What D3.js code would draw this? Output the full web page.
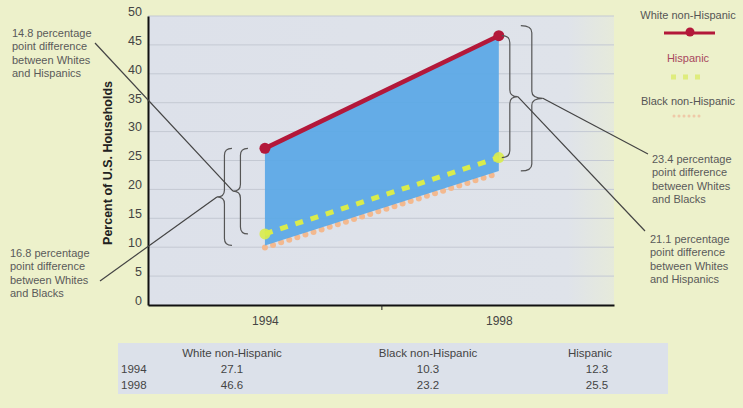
<!DOCTYPE html>
<html>
<head>
<meta charset="utf-8">
<script src="https://cdn.jsdelivr.net/npm/d3@7"></script>
<style>
  html, body { margin: 0; padding: 0; background: #edf1cb; }
  svg { display: block; }
  text { font-family: "Liberation Sans", Arial, sans-serif; }
</style>
</head>
<body>
<svg id="chart" width="743" height="408"></svg>
<script>
// ---- data ----
const years = [1994, 1998];
const white = [27.1, 46.6];
const black = [10.3, 23.2];
const hispanic = [12.3, 25.5];
const yTicks = [0, 5, 10, 15, 20, 25, 30, 35, 40, 45, 50];
const xTickLabels = ["1994", "1998"];
const seriesNames = ["White non-Hispanic", "Black non-Hispanic", "Hispanic"];
const legendNames = ["White non-Hispanic", "Hispanic", "Black non-Hispanic"];
const yTitle = "Percent of U.S. Households";

const svg = d3.select("#chart");
const W = 743, H = 408;
svg.append("rect").attr("width", W).attr("height", H).attr("fill", "#edf1cb");

const plot = { left: 148, right: 614, top: 16, bottom: 305 };
const x = d3.scaleLinear().domain([1992, 1999.97]).range([plot.left, plot.right]);
const y = d3.scaleLinear().domain([0, 50]).range([plot.bottom, plot.top]);

// plot background
const defs = svg.append("defs");
const g1 = defs.append("linearGradient").attr("id", "plotbg").attr("x1", 0).attr("x2", 1).attr("y1", 0).attr("y2", 0);
g1.append("stop").attr("offset", "0").attr("stop-color", "#dde1ea");
g1.append("stop").attr("offset", "0.9").attr("stop-color", "#dfe3ea");
g1.append("stop").attr("offset", "1").attr("stop-color", "#e6eadb");
svg.append("rect").attr("x", plot.left).attr("y", plot.top)
  .attr("width", plot.right - plot.left).attr("height", plot.bottom - plot.top)
  .attr("fill", "url(#plotbg)");

// grid lines
svg.append("g").selectAll("line").data(yTicks.filter(d => d > 0)).join("line")
  .attr("x1", plot.left).attr("x2", plot.right)
  .attr("y1", d => y(d)).attr("y2", d => y(d))
  .attr("stroke", "#c4c9d3").attr("stroke-width", 1);

// y axis
const yAxis = d3.axisLeft(y).tickValues(yTicks).tickSize(0).tickPadding(6);
const ya = svg.append("g").attr("transform", `translate(${plot.left},0)`).call(yAxis);
ya.select(".domain").attr("stroke", "#111").attr("stroke-width", 2);
ya.selectAll("text").attr("font-size", 12.5).attr("fill", "#444").attr("dy", "-0.05em")
  .attr("font-family", "'Liberation Sans', Arial, sans-serif");

// x axis
const xAxis = d3.axisBottom(x).tickValues(years).tickFormat((d, i) => xTickLabels[i]).tickSize(0).tickPadding(11);
const xa = svg.append("g").attr("transform", `translate(0,${plot.bottom})`).call(xAxis);
xa.select(".domain").attr("stroke", "#111").attr("stroke-width", 2);
xa.selectAll("text").attr("font-size", 12).attr("fill", "#444")
  .attr("font-family", "'Liberation Sans', Arial, sans-serif");
svg.append("line").attr("x1", x(1996)).attr("x2", x(1996))
  .attr("y1", plot.bottom).attr("y2", plot.bottom + 5).attr("stroke", "#222");

// y title
svg.append("text")
  .attr("transform", `translate(112,163) rotate(-90)`)
  .attr("text-anchor", "middle").attr("font-size", 12.5).attr("font-weight", "bold")
  .attr("fill", "#222").text(yTitle);

// data rows
const rows = years.map((yr, i) => ({ yr, w: white[i], b: black[i], h: hispanic[i] }));

// black (peach dots) under area
svg.append("path").datum(rows)
  .attr("d", d3.line().x(d => x(d.yr)).y(d => y(d.b) + 2))
  .attr("fill", "none").attr("stroke", "#f3b98f").attr("stroke-width", 6)
  .attr("stroke-linecap", "round").attr("stroke-dasharray", "0,8.5");

// blue area between white and black
const area = d3.area().x(d => x(d.yr)).y0(d => y(d.b)).y1(d => y(d.w));
svg.append("path").datum(rows).attr("d", area)
  .attr("fill", "#5aa8e6").attr("fill-opacity", 0.93);

// hispanic dashed line
svg.append("path").datum(rows)
  .attr("d", d3.line().x(d => x(d.yr)).y(d => y(d.h)))
  .attr("fill", "none").attr("stroke", "#d9ec4c").attr("stroke-width", 5)
  .attr("stroke-dasharray", "8,8");
svg.append("g").selectAll("circle").data(rows).join("circle")
  .attr("cx", d => x(d.yr)).attr("cy", d => y(d.h)).attr("r", 5.5)
  .attr("fill", "#d9ec4c").attr("opacity", 0.9);

// white line
svg.append("path").datum(rows)
  .attr("d", d3.line().x(d => x(d.yr)).y(d => y(d.w)))
  .attr("fill", "none").attr("stroke", "#b3183a").attr("stroke-width", 4.5);
svg.append("g").selectAll("circle").data(rows).join("circle")
  .attr("cx", d => x(d.yr)).attr("cy", d => y(d.w)).attr("r", 5.5)
  .attr("fill", "#b3183a");

// braces
function brace(xe, y1, y2, dir, depth) {
  const xb = xe + dir * depth / 2, xt = xe + dir * depth, ym = (y1 + y2) / 2, r = 7;
  return `M${xe},${y1} Q${xb},${y1} ${xb},${y1 + r} L${xb},${ym - r} Q${xb},${ym} ${xt},${ym}` +
         ` Q${xb},${ym} ${xb},${ym + r} L${xb},${y2 - r} Q${xb},${y2} ${xe},${y2}`;
}
const bg = svg.append("g").attr("fill", "none").attr("stroke", "#555").attr("stroke-width", 1.2);
const x0 = x(years[0]), x1 = x(years[1]);
const braces = [
  { xe: x0 - 17, y1: y(white[0]), y2: y(hispanic[0]), dir: -1, depth: 15 },
  { xe: x0 - 33, y1: y(white[0]), y2: y(black[0]), dir: -1, depth: 15 },
  { xe: x1 + 3, y1: y(white[1]), y2: y(hispanic[1]), dir: 1, depth: 16 },
  { xe: x1 + 22, y1: y(white[1]) - 10, y2: y(black[1]), dir: 1, depth: 22 }
];
braces.forEach(b => bg.append("path").attr("d", brace(b.xe, b.y1, b.y2, b.dir, b.depth)));
const tips = braces.map(b => [b.xe + b.dir * b.depth, (b.y1 + b.y2) / 2]);

// annotations
const fmt = v => (Math.round(v * 10) / 10).toFixed(1);
const notes = [
  { lines: [`${fmt(white[0] - hispanic[0])} percentage`, "point difference", "between Whites", "and Hispanics"],
    tx: 12, ty: 37, from: [95, 43], tip: tips[0] },
  { lines: [`${fmt(white[0] - black[0])} percentage`, "point difference", "between Whites", "and Blacks"],
    tx: 10, ty: 257, from: [100, 281], tip: tips[1] },
  { lines: [`${fmt(white[1] - black[1])} percentage`, "point difference", "between Whites", "and Blacks"],
    tx: 652, ty: 163, from: [648, 154], tip: tips[3] },
  { lines: [`${fmt(white[1] - hispanic[1])} percentage`, "point difference", "between Whites", "and Hispanics"],
    tx: 650, ty: 243, from: [645, 231], tip: tips[2] }
];
notes.forEach(n => {
  svg.append("line").attr("x1", n.from[0]).attr("y1", n.from[1])
    .attr("x2", n.tip[0]).attr("y2", n.tip[1]).attr("stroke", "#444").attr("stroke-width", 1.2);
  const t = svg.append("text").attr("x", n.tx).attr("y", n.ty).attr("font-size", 11).attr("fill", "#5a5a5a");
  n.lines.forEach((l, i) => t.append("tspan").attr("x", n.tx).attr("dy", i === 0 ? 0 : 13.4).text(l));
});

// legend
const lg = svg.append("g");
const lx = 688;
lg.append("text").attr("x", lx).attr("y", 19).attr("text-anchor", "middle")
  .attr("font-size", 11).attr("fill", "#555").text(legendNames[0]);
lg.append("line").attr("x1", lx - 24).attr("x2", lx + 27).attr("y1", 33).attr("y2", 33)
  .attr("stroke", "#b3183a").attr("stroke-width", 3);
lg.append("circle").attr("cx", lx + 2).attr("cy", 32).attr("r", 4.5).attr("fill", "#b3183a");
lg.append("text").attr("x", lx).attr("y", 62).attr("text-anchor", "middle")
  .attr("font-size", 11).attr("fill", "#a8485e").text(legendNames[1]);
lg.append("line").attr("x1", lx - 17).attr("x2", lx + 17).attr("y1", 77).attr("y2", 77)
  .attr("stroke", "#dcec6a").attr("stroke-width", 5).attr("stroke-dasharray", "5,7").attr("opacity", 0.8);
lg.append("text").attr("x", lx).attr("y", 105).attr("text-anchor", "middle")
  .attr("font-size", 11).attr("fill", "#555").text(legendNames[2]);
lg.append("line").attr("x1", lx - 14).attr("x2", lx + 14).attr("y1", 116).attr("y2", 116)
  .attr("stroke", "#f0c0a0").attr("stroke-width", 3).attr("stroke-linecap", "round")
  .attr("stroke-dasharray", "0,5").attr("opacity", 0.8);

// table
const tg = svg.append("g");
tg.append("rect").attr("x", 118).attr("y", 343).attr("width", 550).attr("height", 51).attr("fill", "#dce1ea");
const colX = [232, 428, 590];
const rowY = [357, 373, 389];
seriesNames.forEach((s, i) => tg.append("text").attr("x", colX[i]).attr("y", rowY[0])
  .attr("text-anchor", "middle").attr("font-size", 11.5).attr("fill", "#444").text(s));
const valueCols = [white, black, hispanic];
years.forEach((yr, r) => {
  tg.append("text").attr("x", 121).attr("y", rowY[r + 1]).attr("font-size", 11.5).attr("fill", "#444").text(xTickLabels[r]);
  valueCols.forEach((vals, c) => tg.append("text").attr("x", colX[c] + (c === 2 ? 7 : 0)).attr("y", rowY[r + 1])
    .attr("text-anchor", "middle").attr("font-size", 11.5).attr("fill", "#444").text(fmt(vals[r])));
});
</script>
</body>
</html>
